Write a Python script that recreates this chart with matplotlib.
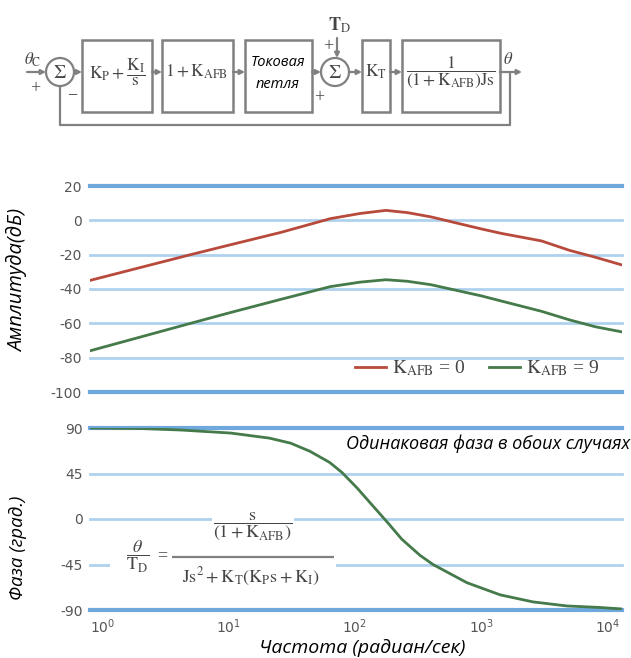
import matplotlib
matplotlib.use("Agg")
import matplotlib.pyplot as plt
from matplotlib.patches import Rectangle, Circle

plt.rcParams['axes.unicode_minus'] = False

# --- data ---
freq_mag = [0.8, 2, 5, 10, 26, 64, 110, 176, 260, 400, 1000, 1440, 3000, 5000, 8000, 13000]
mag_k0 = [-35, -27.5, -20, -14.5, -7, 1, 4, 5.8, 4.5, 2, -5, -7.6, -12, -17.5, -21.5, -26]
mag_k9 = [-76, -68, -60, -54, -46, -38.6, -36, -34.6, -35.5, -37.5, -44, -47, -53, -58, -62, -65]

freq_phase = [0.8, 2, 4.2, 10.4, 21, 31, 44, 63, 79, 104, 132, 180, 235, 328, 415,
              770, 1410, 2570, 4760, 8700, 13000]
phase = [90, 89.5, 88, 85, 80, 75, 67, 56, 46, 30.7, 16, -3, -20, -36, -45,
         -63, -75, -82, -86, -87.5, -89]

mag_ticks = [20, 0, -20, -40, -60, -80, -100]
phase_ticks = [90, 45, 0, -45, -90]
freq_ticks = [1, 10, 100, 1000, 10000]

RED = '#b84a3c'
GREEN = '#457a4a'
GRID_LIGHT = '#afd1ee'
GRID_DARK = '#6ea8dc'
TICK_GREY = '#555555'
DIAG = '#808080'
TXT = '#454545'

W, H = 631, 658
fig = plt.figure(figsize=(W / 100, H / 100), dpi=100)


def ax_rect(x0, x1, ytop, ybot):
    return [x0 / W, 1 - ybot / H, (x1 - x0) / W, (ybot - ytop) / H]


def grid(ax, ticks):
    for i, t in enumerate(ticks):
        edge = i == 0 or i == len(ticks) - 1
        ax.axhline(t, color=GRID_DARK if edge else GRID_LIGHT,
                   lw=3.0 if edge else 2.0, zorder=1, clip_on=False)


# magnitude
ax1 = fig.add_axes(ax_rect(90, 622, 186, 392))
ax1.set_xscale('log')
ax1.set_xlim(0.8, 13000)
ax1.set_ylim(-100, 20)
grid(ax1, mag_ticks)
ax1.plot(freq_mag, mag_k0, color=RED, lw=2, zorder=3, label=r'$\mathrm{K_{AFB}}$ = 0')
ax1.plot(freq_mag, mag_k9, color=GREEN, lw=2, zorder=3, label=r'$\mathrm{K_{AFB}}$ = 9')
ax1.set_yticks(mag_ticks)
ax1.set_xticks([])
ax1.minorticks_off()
ax1.tick_params(length=0, pad=6, labelsize=10, labelcolor=TICK_GREY)
leg = ax1.legend(loc='center right', bbox_to_anchor=(0.99, 0.115), ncol=2, frameon=False,
                 handlelength=1.6, handletextpad=0.3, columnspacing=1.2,
                 prop={'family': 'Liberation Serif', 'size': 14})
for t in leg.get_texts():
    t.set_color(TXT)
    t.set_math_fontfamily('stix')

# phase
ax2 = fig.add_axes(ax_rect(90, 622, 428, 610))
ax2.set_xscale('log')
ax2.set_xlim(0.8, 13000)
ax2.set_ylim(-90, 90)
grid(ax2, phase_ticks)
ax2.plot(freq_phase, phase, color=GREEN, lw=2, zorder=3)
ax2.set_yticks(phase_ticks)
ax2.set_xticks(freq_ticks)
ax2.minorticks_off()
ax2.tick_params(length=0, pad=5, labelsize=10, labelcolor=TICK_GREY)

for ax in (ax1, ax2):
    for s in ax.spines.values():
        s.set_visible(False)

lab = dict(family='Open Sans', style='italic', color='black', ha='center', va='center')
fig.text(18 / W, 1 - 280 / H, 'Амплитуда(дБ)', rotation=90, fontsize=14.5, **lab)
fig.text(18 / W, 1 - 548 / H, 'Фаза (град.)', rotation=90, fontsize=13.5, **lab)
fig.text(362 / W, 1 - 648 / H, 'Частота (радиан/сек)', fontsize=14, **lab)

# overlay in pixel coordinates for the diagram and the formula
ov = fig.add_axes([0, 0, 1, 1], zorder=5)
ov.set_xlim(0, W)
ov.set_ylim(H, 0)
ov.axis('off')
ov.patch.set_alpha(0)


def line(xs, ys):
    ov.plot(xs, ys, color=DIAG, lw=1.6, solid_capstyle='butt')


def arrow(x0, y0, x1, y1):
    ov.annotate('', xy=(x1, y1), xytext=(x0, y0),
                arrowprops=dict(arrowstyle='-|>', color=DIAG, lw=1.6,
                                mutation_scale=7, shrinkA=0, shrinkB=0))


def box(x0, x1, y0=40, y1=112):
    ov.add_patch(Rectangle((x0, y0), x1 - x0, y1 - y0, fill=False, ec=DIAG, lw=1.8))


def mtext(x, y, s, size=12, **kw):
    ov.text(x, y, s, fontsize=size, color=TXT, ha='center', va='center',
            math_fontfamily='stix', family='Liberation Serif', **kw)


yc = 72
# summing junctions
for cx in (60, 335):
    ov.add_patch(Circle((cx, yc), 14, fill=False, ec=DIAG, lw=1.6))
    mtext(cx, yc + 1, r'$\Sigma$', size=14)

arrow(27, yc, 46, yc)
arrow(74, yc, 82, yc)
box(82, 152)
arrow(152, yc, 162, yc)
box(162, 233)
arrow(233, yc, 245, yc)
box(245, 312)
arrow(312, yc, 321, yc)
arrow(349, yc, 362, yc)
box(362, 390)
arrow(390, yc, 402, yc)
box(402, 500)
arrow(500, yc, 522, yc)
line([510, 510, 60, 60], [yc, 125, 125, 86])
arrow(337, 38, 337, 58)

mtext(117, yc, r'$\mathrm{K_P} + \dfrac{\mathrm{K_I}}{\mathrm{s}}$', size=12.5)
mtext(197, yc, r'$\mathrm{1 + K_{AFB}}$', size=12.5)
ov.text(278, 62, 'Токовая', family='Open Sans', style='italic', fontsize=10.5,
        color='black', ha='center', va='center')
ov.text(278, 85, 'петля', family='Open Sans', style='italic', fontsize=10.5,
        color='black', ha='center', va='center')
mtext(376, yc, r'$\mathrm{K_T}$', size=12.5)
mtext(451, yc, r'$\dfrac{1}{(1 + \mathrm{K_{AFB}})\mathrm{Js}}$', size=12.5)

mtext(33, 60, r'$\theta_\mathrm{C}$', size=12)
mtext(35, 89, '+', size=13)
mtext(72, 95, '−', size=13)
mtext(328, 47, '+', size=13)
mtext(319, 98, '+', size=13)
mtext(339, 25, r'$\mathbf{T}_\mathrm{D}$', size=13)
mtext(508, 60, r'$\theta$', size=12)

# transfer function in the phase plot
ov.add_patch(Rectangle((110, 532), 226, 62, fc='white', ec='none'))
mtext(138, 557, r'$\dfrac{\theta}{\mathrm{T_D}}$', size=13)
mtext(162, 556, '=', size=13)
mtext(253, 526, r'$\dfrac{\mathrm{s}}{(1 + \mathrm{K_{AFB}})}$', size=13,
      bbox=dict(fc='white', ec='none', pad=1))
line([172, 334], [557, 557])
mtext(251, 577, r'$\mathrm{Js^2 + K_T(K_P s + K_I)}$', size=13)

ov.text(630, 444, 'Одинаковая фаза в обоих случаях', family='Open Sans', style='italic',
        fontsize=13, color='black', ha='right', va='center')

fig.savefig('out.png', dpi=100)
